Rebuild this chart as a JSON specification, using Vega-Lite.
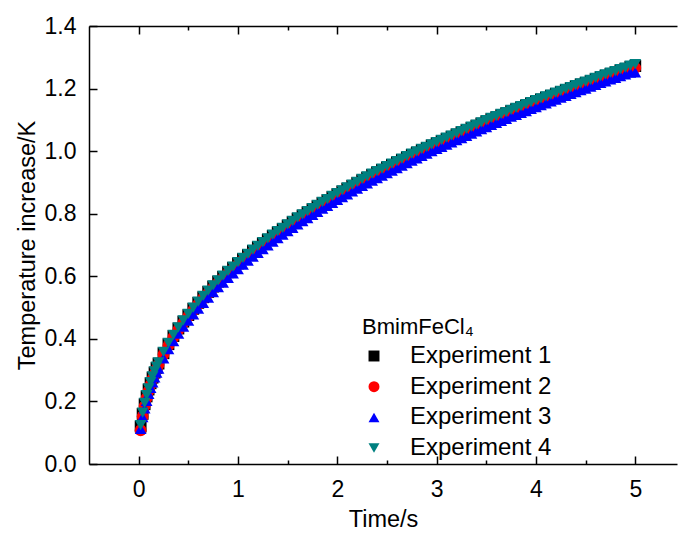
{
  "$schema": "https://vega.github.io/schema/vega-lite/v6.json",
  "width": 588,
  "height": 438,
  "autosize": {"type": "none"},
  "padding": {"left": 89, "top": 26, "right": 1, "bottom": 70},
  "background": "white",
  "config": {
    "view": {"stroke": null},
    "font": "Liberation Sans",
    "axis": {
      "grid": false,
      "domainColor": "black",
      "domainWidth": 1.5,
      "tickColor": "black",
      "tickWidth": 1.5,
      "labelFont": "Liberation Sans",
      "labelFontSize": 23,
      "labelColor": "black",
      "labelOverlap": false,
      "labelFlush": false,
      "labelBound": false,
      "titleFont": "Liberation Sans",
      "titleFontSize": 23.5,
      "titleFontWeight": "normal",
      "titleColor": "black"
    },
    "legend": {
      "titleFont": "Liberation Sans",
      "labelFont": "Liberation Sans"
    }
  },
  "data": {
    "values": [
      {"t": 0.02, "e1": 0.120, "e2": 0.108, "e3": 0.112, "e4": 0.124},
      {"t": 0.04, "e1": 0.160, "e2": 0.152, "e3": 0.150, "e4": 0.164},
      {"t": 0.06, "e1": 0.191, "e2": 0.185, "e3": 0.178, "e4": 0.195},
      {"t": 0.08, "e1": 0.216, "e2": 0.211, "e3": 0.202, "e4": 0.220},
      {"t": 0.10, "e1": 0.238, "e2": 0.233, "e3": 0.224, "e4": 0.242},
      {"t": 0.12, "e1": 0.258, "e2": 0.253, "e3": 0.243, "e4": 0.262},
      {"t": 0.14, "e1": 0.276, "e2": 0.272, "e3": 0.261, "e4": 0.280},
      {"t": 0.16, "e1": 0.292, "e2": 0.288, "e3": 0.277, "e4": 0.296},
      {"t": 0.18, "e1": 0.307, "e2": 0.303, "e3": 0.292, "e4": 0.311},
      {"t": 0.20, "e1": 0.321, "e2": 0.317, "e3": 0.305, "e4": 0.325},
      {"t": 0.25, "e1": 0.354, "e2": 0.350, "e3": 0.338, "e4": 0.358},
      {"t": 0.30, "e1": 0.383, "e2": 0.379, "e3": 0.367, "e4": 0.387},
      {"t": 0.35, "e1": 0.409, "e2": 0.405, "e3": 0.393, "e4": 0.413},
      {"t": 0.40, "e1": 0.433, "e2": 0.429, "e3": 0.417, "e4": 0.437},
      {"t": 0.45, "e1": 0.455, "e2": 0.451, "e3": 0.439, "e4": 0.459},
      {"t": 0.50, "e1": 0.476, "e2": 0.472, "e3": 0.458, "e4": 0.480},
      {"t": 0.55, "e1": 0.496, "e2": 0.492, "e3": 0.478, "e4": 0.500},
      {"t": 0.60, "e1": 0.515, "e2": 0.511, "e3": 0.497, "e4": 0.519},
      {"t": 0.65, "e1": 0.533, "e2": 0.529, "e3": 0.515, "e4": 0.537},
      {"t": 0.70, "e1": 0.550, "e2": 0.546, "e3": 0.532, "e4": 0.554},
      {"t": 0.75, "e1": 0.567, "e2": 0.563, "e3": 0.549, "e4": 0.571},
      {"t": 0.80, "e1": 0.583, "e2": 0.579, "e3": 0.565, "e4": 0.587},
      {"t": 0.85, "e1": 0.598, "e2": 0.594, "e3": 0.580, "e4": 0.602},
      {"t": 0.90, "e1": 0.613, "e2": 0.609, "e3": 0.595, "e4": 0.617},
      {"t": 0.95, "e1": 0.627, "e2": 0.623, "e3": 0.609, "e4": 0.631},
      {"t": 1.00, "e1": 0.641, "e2": 0.637, "e3": 0.623, "e4": 0.645},
      {"t": 1.05, "e1": 0.655, "e2": 0.651, "e3": 0.637, "e4": 0.659},
      {"t": 1.10, "e1": 0.668, "e2": 0.664, "e3": 0.650, "e4": 0.672},
      {"t": 1.15, "e1": 0.681, "e2": 0.677, "e3": 0.663, "e4": 0.685},
      {"t": 1.20, "e1": 0.693, "e2": 0.689, "e3": 0.675, "e4": 0.697},
      {"t": 1.25, "e1": 0.705, "e2": 0.701, "e3": 0.687, "e4": 0.709},
      {"t": 1.30, "e1": 0.717, "e2": 0.713, "e3": 0.699, "e4": 0.721},
      {"t": 1.35, "e1": 0.729, "e2": 0.725, "e3": 0.711, "e4": 0.733},
      {"t": 1.40, "e1": 0.740, "e2": 0.736, "e3": 0.722, "e4": 0.744},
      {"t": 1.45, "e1": 0.751, "e2": 0.747, "e3": 0.733, "e4": 0.755},
      {"t": 1.50, "e1": 0.762, "e2": 0.758, "e3": 0.744, "e4": 0.766},
      {"t": 1.55, "e1": 0.773, "e2": 0.769, "e3": 0.755, "e4": 0.777},
      {"t": 1.60, "e1": 0.784, "e2": 0.780, "e3": 0.766, "e4": 0.788},
      {"t": 1.65, "e1": 0.794, "e2": 0.790, "e3": 0.776, "e4": 0.798},
      {"t": 1.70, "e1": 0.804, "e2": 0.800, "e3": 0.786, "e4": 0.808},
      {"t": 1.75, "e1": 0.814, "e2": 0.810, "e3": 0.796, "e4": 0.818},
      {"t": 1.80, "e1": 0.824, "e2": 0.820, "e3": 0.806, "e4": 0.828},
      {"t": 1.85, "e1": 0.834, "e2": 0.830, "e3": 0.816, "e4": 0.838},
      {"t": 1.90, "e1": 0.843, "e2": 0.839, "e3": 0.825, "e4": 0.847},
      {"t": 1.95, "e1": 0.853, "e2": 0.849, "e3": 0.835, "e4": 0.857},
      {"t": 2.00, "e1": 0.862, "e2": 0.858, "e3": 0.844, "e4": 0.866},
      {"t": 2.05, "e1": 0.871, "e2": 0.867, "e3": 0.853, "e4": 0.875},
      {"t": 2.10, "e1": 0.880, "e2": 0.876, "e3": 0.862, "e4": 0.884},
      {"t": 2.15, "e1": 0.889, "e2": 0.885, "e3": 0.871, "e4": 0.893},
      {"t": 2.20, "e1": 0.898, "e2": 0.894, "e3": 0.880, "e4": 0.902},
      {"t": 2.25, "e1": 0.907, "e2": 0.903, "e3": 0.889, "e4": 0.911},
      {"t": 2.30, "e1": 0.915, "e2": 0.911, "e3": 0.897, "e4": 0.919},
      {"t": 2.35, "e1": 0.924, "e2": 0.920, "e3": 0.906, "e4": 0.928},
      {"t": 2.40, "e1": 0.932, "e2": 0.928, "e3": 0.914, "e4": 0.936},
      {"t": 2.45, "e1": 0.940, "e2": 0.936, "e3": 0.922, "e4": 0.944},
      {"t": 2.50, "e1": 0.948, "e2": 0.944, "e3": 0.930, "e4": 0.952},
      {"t": 2.55, "e1": 0.956, "e2": 0.952, "e3": 0.938, "e4": 0.960},
      {"t": 2.60, "e1": 0.964, "e2": 0.960, "e3": 0.946, "e4": 0.968},
      {"t": 2.65, "e1": 0.972, "e2": 0.968, "e3": 0.954, "e4": 0.976},
      {"t": 2.70, "e1": 0.980, "e2": 0.976, "e3": 0.962, "e4": 0.984},
      {"t": 2.75, "e1": 0.988, "e2": 0.984, "e3": 0.970, "e4": 0.992},
      {"t": 2.80, "e1": 0.995, "e2": 0.991, "e3": 0.977, "e4": 0.999},
      {"t": 2.85, "e1": 1.003, "e2": 0.999, "e3": 0.985, "e4": 1.007},
      {"t": 2.90, "e1": 1.010, "e2": 1.006, "e3": 0.992, "e4": 1.014},
      {"t": 2.95, "e1": 1.018, "e2": 1.014, "e3": 1.000, "e4": 1.022},
      {"t": 3.00, "e1": 1.025, "e2": 1.021, "e3": 1.007, "e4": 1.029},
      {"t": 3.05, "e1": 1.032, "e2": 1.028, "e3": 1.014, "e4": 1.036},
      {"t": 3.10, "e1": 1.039, "e2": 1.035, "e3": 1.021, "e4": 1.043},
      {"t": 3.15, "e1": 1.046, "e2": 1.042, "e3": 1.028, "e4": 1.050},
      {"t": 3.20, "e1": 1.053, "e2": 1.049, "e3": 1.035, "e4": 1.057},
      {"t": 3.25, "e1": 1.060, "e2": 1.056, "e3": 1.042, "e4": 1.064},
      {"t": 3.30, "e1": 1.067, "e2": 1.063, "e3": 1.049, "e4": 1.071},
      {"t": 3.35, "e1": 1.074, "e2": 1.070, "e3": 1.056, "e4": 1.078},
      {"t": 3.40, "e1": 1.081, "e2": 1.077, "e3": 1.063, "e4": 1.085},
      {"t": 3.45, "e1": 1.088, "e2": 1.084, "e3": 1.070, "e4": 1.092},
      {"t": 3.50, "e1": 1.095, "e2": 1.091, "e3": 1.077, "e4": 1.099},
      {"t": 3.55, "e1": 1.102, "e2": 1.098, "e3": 1.084, "e4": 1.106},
      {"t": 3.60, "e1": 1.108, "e2": 1.104, "e3": 1.090, "e4": 1.112},
      {"t": 3.65, "e1": 1.115, "e2": 1.111, "e3": 1.097, "e4": 1.119},
      {"t": 3.70, "e1": 1.121, "e2": 1.117, "e3": 1.103, "e4": 1.125},
      {"t": 3.75, "e1": 1.128, "e2": 1.124, "e3": 1.110, "e4": 1.132},
      {"t": 3.80, "e1": 1.134, "e2": 1.130, "e3": 1.116, "e4": 1.138},
      {"t": 3.85, "e1": 1.140, "e2": 1.136, "e3": 1.122, "e4": 1.144},
      {"t": 3.90, "e1": 1.146, "e2": 1.142, "e3": 1.128, "e4": 1.150},
      {"t": 3.95, "e1": 1.153, "e2": 1.149, "e3": 1.135, "e4": 1.157},
      {"t": 4.00, "e1": 1.159, "e2": 1.155, "e3": 1.141, "e4": 1.163},
      {"t": 4.05, "e1": 1.165, "e2": 1.161, "e3": 1.147, "e4": 1.169},
      {"t": 4.10, "e1": 1.171, "e2": 1.167, "e3": 1.153, "e4": 1.175},
      {"t": 4.15, "e1": 1.177, "e2": 1.173, "e3": 1.159, "e4": 1.181},
      {"t": 4.20, "e1": 1.183, "e2": 1.179, "e3": 1.165, "e4": 1.187},
      {"t": 4.25, "e1": 1.189, "e2": 1.185, "e3": 1.171, "e4": 1.193},
      {"t": 4.30, "e1": 1.195, "e2": 1.191, "e3": 1.177, "e4": 1.199},
      {"t": 4.35, "e1": 1.201, "e2": 1.197, "e3": 1.183, "e4": 1.205},
      {"t": 4.40, "e1": 1.207, "e2": 1.203, "e3": 1.189, "e4": 1.211},
      {"t": 4.45, "e1": 1.213, "e2": 1.209, "e3": 1.195, "e4": 1.217},
      {"t": 4.50, "e1": 1.218, "e2": 1.214, "e3": 1.200, "e4": 1.222},
      {"t": 4.55, "e1": 1.224, "e2": 1.220, "e3": 1.206, "e4": 1.228},
      {"t": 4.60, "e1": 1.230, "e2": 1.226, "e3": 1.212, "e4": 1.234},
      {"t": 4.65, "e1": 1.236, "e2": 1.232, "e3": 1.218, "e4": 1.240},
      {"t": 4.70, "e1": 1.241, "e2": 1.237, "e3": 1.223, "e4": 1.245},
      {"t": 4.75, "e1": 1.247, "e2": 1.243, "e3": 1.229, "e4": 1.251},
      {"t": 4.80, "e1": 1.252, "e2": 1.248, "e3": 1.234, "e4": 1.256},
      {"t": 4.85, "e1": 1.258, "e2": 1.254, "e3": 1.240, "e4": 1.262},
      {"t": 4.90, "e1": 1.263, "e2": 1.259, "e3": 1.245, "e4": 1.267},
      {"t": 4.95, "e1": 1.269, "e2": 1.265, "e3": 1.251, "e4": 1.273},
      {"t": 5.00, "e1": 1.272, "e2": 1.266, "e3": 1.252, "e4": 1.278}
    ]
  },
  "transform": [{"fold": ["e1", "e2", "e3", "e4"], "as": ["series", "temp"]}],
  "layer": [
    {
      "mark": {"type": "point", "filled": true, "size": 140, "opacity": 1},
      "encoding": {
        "x": {
          "field": "t",
          "type": "quantitative",
          "scale": {"domain": [-0.5, 5.42], "nice": false, "zero": false},
          "axis": {
            "orient": "bottom",
            "title": "Time/s",
            "values": [0, 0.5, 1, 1.5, 2, 2.5, 3, 3.5, 4, 4.5, 5],
            "labelExpr": "datum.value % 1 === 0 ? format(datum.value, 'd') : ''",
            "tickSize": {"condition": {"test": "datum.value % 1 === 0", "value": -8}, "value": -4},
            "labelPadding": 22,
            "titlePadding": 2
          }
        },
        "y": {
          "field": "temp",
          "type": "quantitative",
          "scale": {"domain": [0, 1.4], "nice": false, "zero": false},
          "axis": {
            "title": "Temperature increase/K",
            "values": [0, 0.1, 0.2, 0.3, 0.4, 0.5, 0.6, 0.7, 0.8, 0.9, 1.0, 1.1, 1.2, 1.3, 1.4],
            "labelExpr": "round(datum.value * 10) % 2 === 0 ? format(datum.value, '.1f') : ''",
            "tickSize": {"condition": {"test": "round(datum.value * 10) % 2 === 0", "value": -8}, "value": -4},
            "labelPadding": 21,
            "titlePadding": 5
          }
        },
        "color": {
          "field": "series",
          "type": "nominal",
          "scale": {"domain": ["e1", "e2", "e3", "e4"], "range": ["#000000", "#ff0000", "#0000ff", "#008080"]},
          "legend": {
            "title": "BmimFeCl₄",
            "orient": "none",
            "legendX": 273,
            "legendY": 291,
            "titleFontSize": 22,
            "titleFontWeight": "normal",
            "titleColor": "black",
            "titlePadding": 5,
            "labelFontSize": 24,
            "labelColor": "black",
            "labelOffset": 24,
            "rowPadding": 6.7,
            "symbolSize": 120,
            "symbolStrokeWidth": 0,
            "labelExpr": "'Experiment ' + substring(datum.label, 1)"
          }
        },
        "shape": {
          "field": "series",
          "type": "nominal",
          "scale": {"domain": ["e1", "e2", "e3", "e4"], "range": ["square", "circle", "triangle-up", "triangle-down"]},
          "legend": {
            "title": "BmimFeCl₄",
            "orient": "none",
            "legendX": 273,
            "legendY": 291,
            "titleFontSize": 22,
            "titleFontWeight": "normal",
            "titleColor": "black",
            "titlePadding": 5,
            "labelFontSize": 24,
            "labelColor": "black",
            "labelOffset": 24,
            "rowPadding": 6.7,
            "symbolSize": 120,
            "symbolStrokeWidth": 0,
            "labelExpr": "'Experiment ' + substring(datum.label, 1)"
          }
        },
        "order": {"field": "series", "type": "ordinal", "sort": "ascending"}
      }
    },
    {
      "mark": {"type": "point", "opacity": 0},
      "encoding": {
        "x": {
          "field": "t",
          "type": "quantitative",
          "axis": {
            "orient": "top",
            "title": null,
            "labels": false,
            "values": [0, 0.5, 1, 1.5, 2, 2.5, 3, 3.5, 4, 4.5, 5],
            "tickSize": {"condition": {"test": "datum.value % 1 === 0", "value": -8}, "value": -4}
          }
        },
        "y": {"field": "temp", "type": "quantitative"}
      }
    }
  ],
  "resolve": {"axis": {"x": "independent"}}
}
